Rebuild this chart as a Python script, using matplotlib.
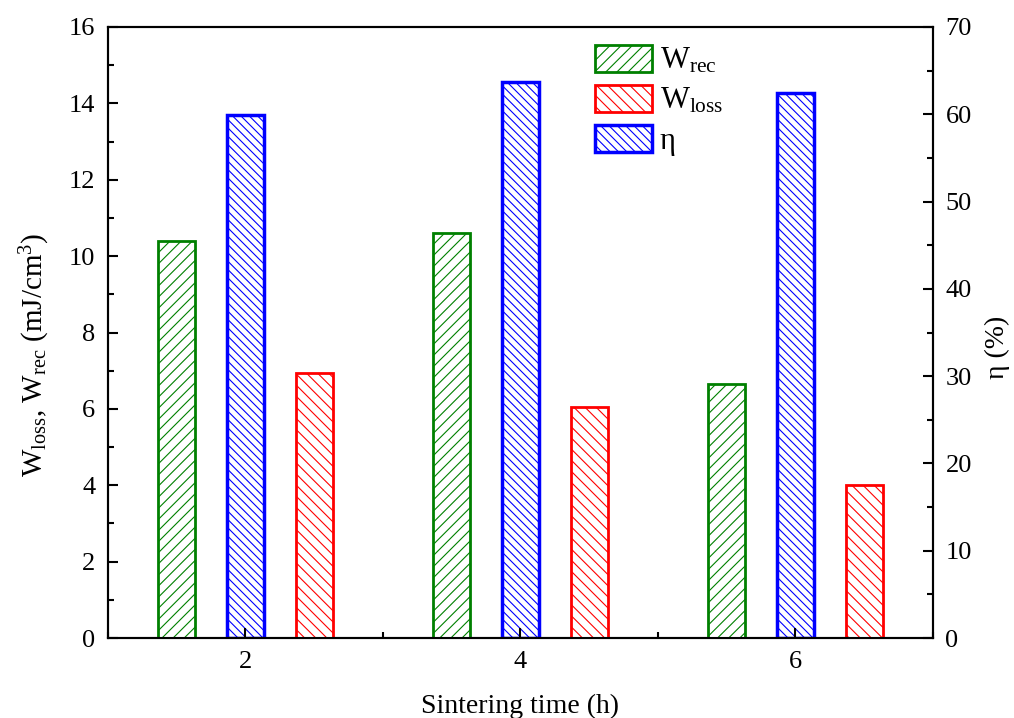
import numpy as np
import matplotlib
matplotlib.use("Agg")
import matplotlib.pyplot as plt
from matplotlib.ticker import MultipleLocator

plt.rcParams["font.family"] = "Liberation Serif"
plt.rcParams["mathtext.fontset"] = "custom"
plt.rcParams["mathtext.rm"] = "Liberation Serif"
plt.rcParams["mathtext.it"] = "Liberation Serif:italic"
plt.rcParams["hatch.linewidth"] = 0.8

# data
times = [2, 4, 6]
w_rec = [10.4, 10.6, 6.65]
w_loss = [6.95, 6.05, 4.0]
eta = [59.9, 63.7, 62.4]

x = np.array(times)
w = 0.27

fig = plt.figure(figsize=(10.14, 7.18), dpi=100)
ax = fig.add_axes([0.1065, 0.1114, 0.8135, 0.851])
ax2 = ax.twinx()

b1 = ax.bar(x - 0.5, w_rec, w, facecolor="white", edgecolor="green",
            hatch="///", linewidth=2, label=r"W$_{\rm rec}$")
b2 = ax.bar(x + 0.5, w_loss, w, facecolor="white", edgecolor="red",
            hatch="\\\\\\", linewidth=2, label=r"W$_{\rm loss}$")
b3 = ax2.bar(x, eta, w, facecolor="white", edgecolor="blue",
             hatch="\\\\\\\\", linewidth=2.5, label="η")

# keep left axes (and its ticks) above the twin
ax.set_zorder(ax2.get_zorder() + 1)
ax.patch.set_visible(False)

ax.set_xlim(1, 7)
ax.set_ylim(0, 16)
ax2.set_ylim(0, 70)
ax.set_xticks(times)
ax.xaxis.set_minor_locator(MultipleLocator(1))
ax.yaxis.set_major_locator(MultipleLocator(2))
ax.yaxis.set_minor_locator(MultipleLocator(1))
ax2.yaxis.set_major_locator(MultipleLocator(10))
ax2.yaxis.set_minor_locator(MultipleLocator(5))

ax.tick_params(which="both", direction="in", top=False, right=False, width=1.5,
               labelsize=19, pad=9)
ax.tick_params(which="major", length=7)
ax.tick_params(which="minor", length=4)
ax2.tick_params(which="both", direction="in", width=1.5, labelsize=19, pad=9)
ax2.tick_params(which="major", length=7)
ax2.tick_params(which="minor", length=4)

for s in ax.spines.values():
    s.set_linewidth(1.5)
for s in ax2.spines.values():
    s.set_linewidth(1.5)

ax.set_xlabel("Sintering time (h)", fontsize=20, labelpad=15)
ax.set_ylabel(r"W$_{\rm loss}$, W$_{\rm rec}$ (mJ/cm$^3$)", fontsize=21)
ax.yaxis.set_label_coords(-0.068, 0.463)
ax2.set_ylabel("η (%)", fontsize=20)
ax2.yaxis.set_label_coords(1.063, 0.475)

ax.legend([b1, b2, b3], [r"W$_{\rm rec}$", r"W$_{\rm loss}$", "η"],
          loc="upper left", bbox_to_anchor=(0.5868, 0.938),
          bbox_transform=fig.transFigure, frameon=False, borderpad=0,
          borderaxespad=0, fontsize=22, handlelength=1.86, handleheight=1.0,
          labelspacing=0.3, handletextpad=0.26)

fig.savefig("out.png", dpi=100)
